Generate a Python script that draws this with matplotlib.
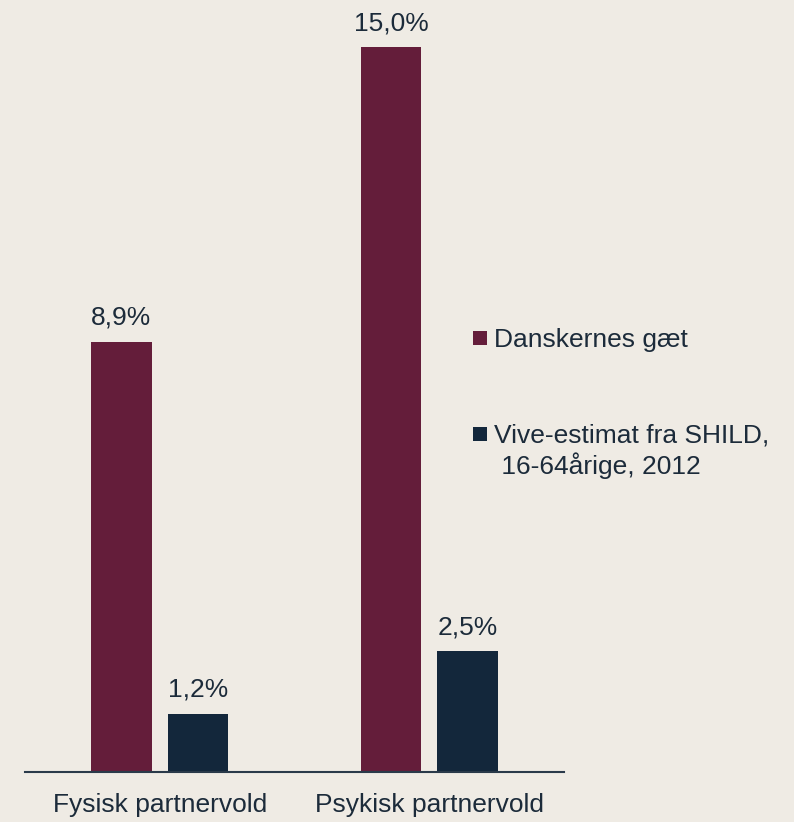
import matplotlib
matplotlib.use("Agg")
import matplotlib.pyplot as plt
import numpy as np
from matplotlib.patches import Rectangle

categories = ["Fysisk partnervold", "Psykisk partnervold"]
series_names = ["Danskernes gæt", "Vive-estimat fra SHILD,\n 16-64årige, 2012"]
guess = [8.9, 15.0]
estimate = [1.2, 2.5]
value_labels_guess = ["8,9%", "15,0%"]
value_labels_est = ["1,2%", "2,5%"]

bg = "#EFEBE4"
maroon = "#641D3A"
navy = "#13273B"
txt = "#1C2B3A"
FS = 19

plt.rcParams['font.family'] = ['Liberation Sans', 'DejaVu Sans']

W, H = 794, 822
fig = plt.figure(figsize=(W / 100, H / 100), dpi=100, facecolor=bg)
ax = fig.add_axes([0.0315, 0.0608, 0.6788, 0.9112])
ax.set_facecolor(bg)

x = np.arange(len(categories))
w = 0.223
off = 0.142
b1 = ax.bar(x - off, guess, w, color=maroon, label=series_names[0])
b2 = ax.bar(x + off, estimate, w, color=navy, label=series_names[1])

for bars, labs in [(b1, value_labels_guess), (b2, value_labels_est)]:
    for r, l in zip(bars, labs):
        ax.annotate(l, (r.get_x() + r.get_width() / 2, r.get_height()),
                    xytext=(0, 12.3), textcoords="offset points",
                    ha="center", va="baseline", fontsize=FS, color=txt)

ax.set_xlim(-0.5, 1.5)
ax.set_ylim(0, 15.5)
for s in ["top", "right", "left"]:
    ax.spines[s].set_visible(False)
ax.spines["bottom"].set_color("#2A3A4A")
ax.spines["bottom"].set_linewidth(1.5)
ax.set_yticks([])
ax.set_xticks(x)
ax.set_xticklabels(categories, fontsize=FS, color=txt)
ax.tick_params(axis="x", length=0, pad=15)

# legend drawn manually (handle aligned with first text line)
legend_colors = [maroon, navy]
first_baselines_px = [347.3, 443.0]
line_step_px = 31.0
sq = 14.0
for name, col, bl in zip(series_names, legend_colors, first_baselines_px):
    cy = bl - 9.0
    fig.patches.append(Rectangle((472.7 / W, 1 - (cy + sq / 2) / H), sq / W, sq / H,
                                 transform=fig.transFigure, facecolor=col,
                                 edgecolor="none"))
    for i, line in enumerate(name.split("\n")):
        fig.text(494 / W, 1 - (bl + i * line_step_px) / H, line, fontsize=FS,
                 color=txt, ha="left", va="baseline")

fig.savefig("out.png", dpi=100, facecolor=bg)
